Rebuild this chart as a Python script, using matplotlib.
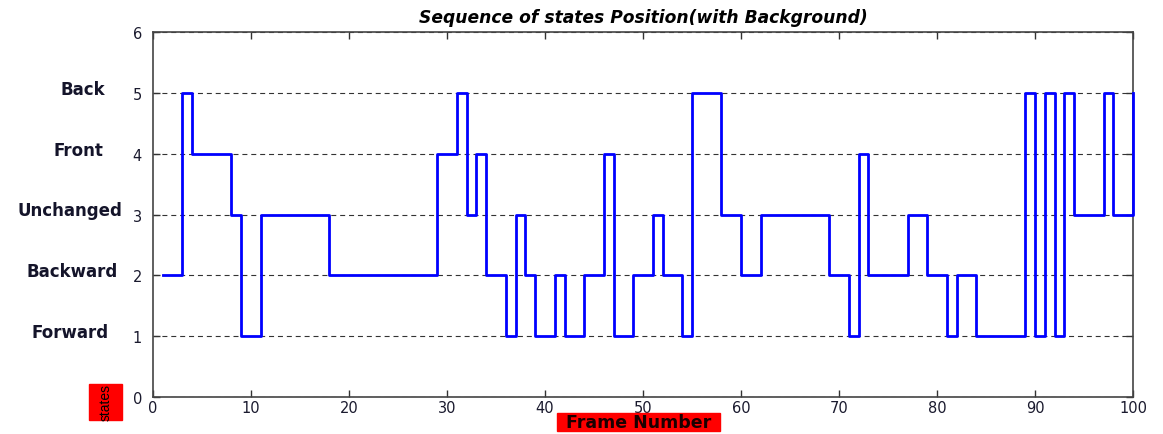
import numpy as np
import matplotlib.pyplot as plt
from matplotlib.patches import Rectangle

# states per frame (1..100)
frames = np.arange(1, 101)
states = [2, 2, 5, 4, 4, 4, 4, 3, 1, 1,
          3, 3, 3, 3, 3, 3, 3, 2, 2, 2,
          2, 2, 2, 2, 2, 2, 2, 2, 4, 4,
          5, 3, 4, 2, 2, 1, 3, 2, 1, 1,
          2, 1, 1, 2, 2, 4, 1, 1, 2, 2,
          3, 2, 2, 1, 5, 5, 5, 3, 3, 2,
          2, 3, 3, 3, 3, 3, 3, 3, 2, 2,
          1, 4, 2, 2, 2, 2, 3, 3, 2, 2,
          1, 2, 2, 1, 1, 1, 1, 1, 5, 1,
          5, 1, 5, 3, 3, 3, 5, 3, 3, 5]
state_names = ['Forward', 'Backward', 'Unchanged', 'Front', 'Back']
x_ticks = list(range(0, 101, 10))
y_ticks = list(range(0, 7))

plt.rcParams['font.family'] = ['DejaVu Sans']

W, H = 1163, 435
fig = plt.figure(figsize=(W / 100, H / 100), dpi=100)
ax = fig.add_axes([153 / W, 1 - 398 / H, 980 / W, 365 / H])

ax.plot(frames, states, drawstyle='steps-post', color='#0000ff',
        linewidth=2.0, clip_on=False, zorder=3)

ax.set_xlim(0, 100)
ax.set_ylim(0, 6)
ax.set_xticks(x_ticks)
ax.set_yticks(y_ticks)
ax.tick_params(direction='in', top=True, right=True, length=5, width=1,
               labelsize=10.5, labelcolor='#1a1a2e', color='#333333')
ax.tick_params(axis='x', pad=2)
ax.tick_params(axis='y', pad=8)
ax.yaxis.grid(True, linestyle=(0, (4.5, 3.5)), color='#333333', linewidth=0.8)
for sp in ax.spines.values():
    sp.set_color('#444444')
    sp.set_linewidth(1.2)

ax.set_title('Sequence of states Position(with Background)', fontsize=12.3,
             fontweight='bold', style='italic', pad=7)

# state names on the left side
name_center = [70, 72, 70, 78, 83]
for i, name in enumerate(state_names):
    ypx = ax.transData.transform((0, i + 1))[1]
    fig.text(name_center[i] / W, (ypx + 4) / H, name, fontsize=12,
             fontweight='bold', color='#14142a', ha='center', va='center')

# red label boxes
fig.patches.append(Rectangle((89 / W, 1 - 421 / H), 33 / W, 36 / H,
                             transform=fig.transFigure, color='#ff0000'))
fig.patches.append(Rectangle((557 / W, 1 - 432 / H), 163 / W, 18 / H,
                             transform=fig.transFigure, color='#ff0000'))
fig.text(105.5 / W, 1 - 403 / H, 'states', rotation=90,
         family=['Liberation Sans'], fontsize=10,
         ha='center', va='center')
fig.text(638.5 / W, 1 - 423.5 / H, 'Frame Number', fontsize=12.5,
         fontweight='bold', color='#1a0000', ha='center', va='center')

fig.savefig('out.png', dpi=100)
